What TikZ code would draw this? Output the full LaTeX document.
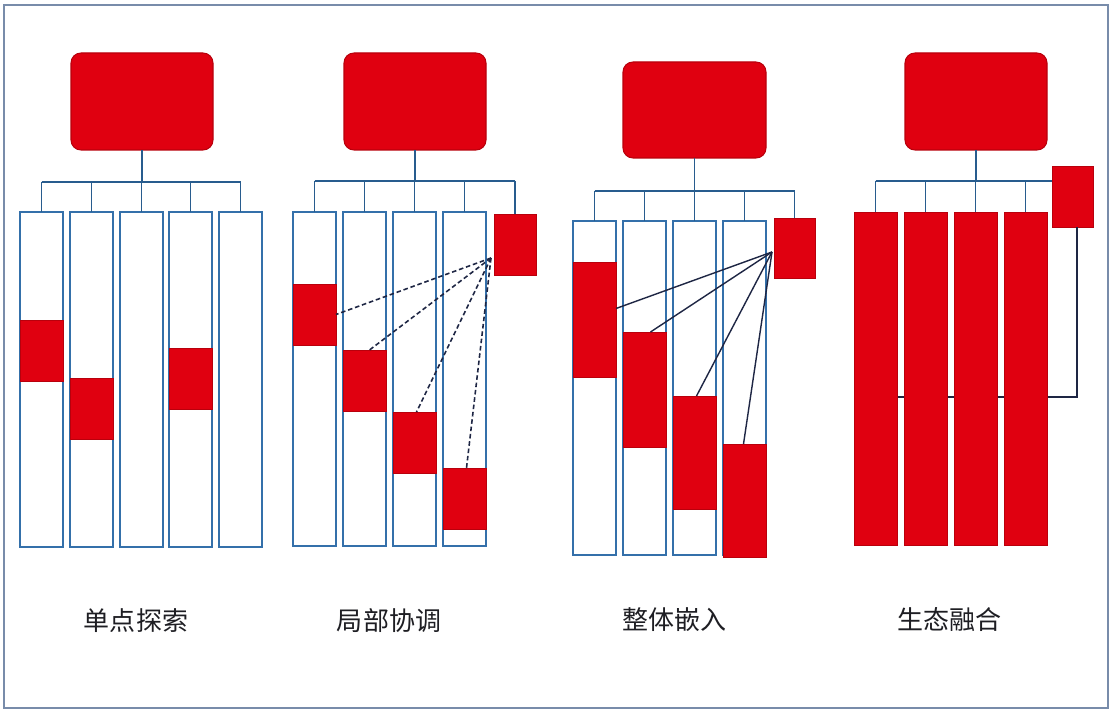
\documentclass[tikz,border=0pt]{standalone}
\usepackage{fontspec}
\newfontfamily\cjk{Noto Sans CJK SC}
\definecolor{myred}{RGB}{224,0,16}
\definecolor{redline}{RGB}{185,0,12}
\definecolor{colblue}{RGB}{52,112,170}
\definecolor{connblue}{RGB}{40,92,142}
\definecolor{navy}{RGB}{30,38,68}
\definecolor{frame}{RGB}{120,140,170}
\definecolor{txt}{RGB}{30,30,35}
\newcommand\pbox[6]{\node[#1, anchor=north west, minimum width={(#4)*0.02cm}, minimum height={(#5)*0.02cm}] (#6) at (#2,#3) {};}
\begin{document}
\begin{tikzpicture}[x=0.02cm,y=-0.02cm,
  colbox/.style={draw=colblue, fill=white, line width=1pt, inner sep=0pt, outer sep=0pt},
  redblk/.style={draw=redline, fill=myred, line width=0.5pt, inner sep=0pt, outer sep=0pt},
  topbox/.style={draw=redline, fill=myred, line width=0.6pt, rounded corners=0.2cm, inner sep=0pt, outer sep=0pt},
  conn/.style={draw=connblue, line width=0.9pt},
  dconn/.style={draw=navy, line width=0.9pt, dash pattern=on 2.6pt off 1.6pt},
  sconn/.style={draw=navy, line width=0.8pt},
  lbl/.style={font=\cjk\fontsize{14.8pt}{16pt}\selectfont, text=txt, inner sep=0pt}
]
\useasboundingbox (0,0) rectangle (1112,712);
\fill[white] (0,0) rectangle (1112,712);
\draw[frame, line width=0.8pt] (4,5) rectangle (1108,708);

% ---------------- Panel 1 ----------------
\pbox{topbox}{71}{53}{142}{97}{t1}
\pbox{colbox}{20}{212}{43}{335}{c11}
\pbox{colbox}{70}{212}{43}{335}{c12}
\pbox{colbox}{120}{212}{43}{335}{c13}
\pbox{colbox}{169}{212}{43}{335}{c14}
\pbox{colbox}{219}{212}{43}{335}{c15}
\pbox{redblk}{20}{320}{43}{61}{r11}
\pbox{redblk}{70}{378}{43}{61}{r12}
\pbox{redblk}{169}{348}{43}{61}{r14}
\coordinate (h1) at (142,182);
\draw[conn] (t1.south) -- (t1.south |- h1);
\draw[conn] (c11.north |- h1) -- (c15.north |- h1);
\foreach \i in {1,...,5}{\draw[conn] (c1\i.north |- h1) -- (c1\i.north);}
\node[lbl] (l1) at (136,621) {单点探索};

% ---------------- Panel 2 ----------------
\pbox{topbox}{344}{53}{142}{97}{t2}
\pbox{colbox}{293}{212}{43}{334}{c21}
\pbox{colbox}{343}{212}{43}{334}{c22}
\pbox{colbox}{393}{212}{43}{334}{c23}
\pbox{colbox}{443}{212}{43}{334}{c24}
\pbox{redblk}{494}{214}{42}{61}{s2}
\pbox{redblk}{293}{284}{43}{61}{r21}
\pbox{redblk}{343}{350}{43}{61}{r22}
\pbox{redblk}{393}{412}{43}{61}{r23}
\pbox{redblk}{443}{468}{43}{61}{r24}
\coordinate (h2) at (415,181);
\draw[conn] (t2.south) -- (t2.south |- h2);
\draw[conn] (c21.north |- h2) -- (s2.north |- h2);
\foreach \i in {1,...,4}{\draw[conn] (c2\i.north |- h2) -- (c2\i.north);}
\draw[conn] (s2.north |- h2) -- (s2.north);
\coordinate (p2) at (491,258);
\draw[dconn] (p2) -- (r21.east);
\draw[dconn] (p2) -- ([xshift=0.1cm]r22.north);
\draw[dconn] (p2) -- ([xshift=0.04cm]r23.north);
\draw[dconn] (p2) -- ([xshift=0.04cm]r24.north);
\node[lbl] (l2) at (389,621) {局部协调};

% ---------------- Panel 3 ----------------
\pbox{topbox}{623}{62}{143}{96}{t3}
\pbox{colbox}{573}{221}{43}{334}{c31}
\pbox{colbox}{623}{221}{43}{334}{c32}
\pbox{colbox}{673}{221}{43}{334}{c33}
\pbox{colbox}{723}{221}{43}{334}{c34}
\pbox{redblk}{774}{218}{41}{60}{s3}
\pbox{redblk}{573}{262}{43}{115}{r31}
\pbox{redblk}{623}{332}{43}{115}{r32}
\pbox{redblk}{673}{396}{43}{113}{r33}
\pbox{redblk}{723}{444}{43}{113}{r34}
\coordinate (h3) at (695,191);
\draw[conn] (t3.south) -- (t3.south |- h3);
\draw[conn] (c31.north |- h3) -- (s3.north |- h3);
\foreach \i in {1,...,4}{\draw[conn] (c3\i.north |- h3) -- (c3\i.north);}
\draw[conn] (s3.north |- h3) -- (s3.north);
\coordinate (p3) at (772,252);
\draw[sconn] (p3) -- ([yshift=0.22cm]r31.east);
\draw[sconn] (p3) -- ([xshift=0.12cm]r32.north);
\draw[sconn] (p3) -- ([xshift=0.04cm]r33.north);
\draw[sconn] (p3) -- ([xshift=-0.02cm]r34.north);
\node[lbl] (l3) at (674,620) {整体嵌入};

% ---------------- Panel 4 ----------------
\pbox{topbox}{905}{53}{142}{97}{t4}
\pbox{redblk}{1052}{166}{41}{61}{s4}
\coordinate (h4) at (976,181);
\coordinate (b4) at (1077,397);
\draw[sconn] (s4.south -| b4) -- (b4) -- (876,397);
\pbox{redblk}{854}{212}{43}{333}{c41}
\pbox{redblk}{904}{212}{43}{333}{c42}
\pbox{redblk}{954}{212}{43}{333}{c43}
\pbox{redblk}{1004}{212}{43}{333}{c44}
\draw[conn] (t4.south) -- (t4.south |- h4);
\draw[conn] (c41.north |- h4) -- (s4.west |- h4);
\foreach \i in {1,...,4}{\draw[conn] (c4\i.north |- h4) -- (c4\i.north);}
\node[lbl] (l4) at (949,620) {生态融合};
\end{tikzpicture}
\end{document}
